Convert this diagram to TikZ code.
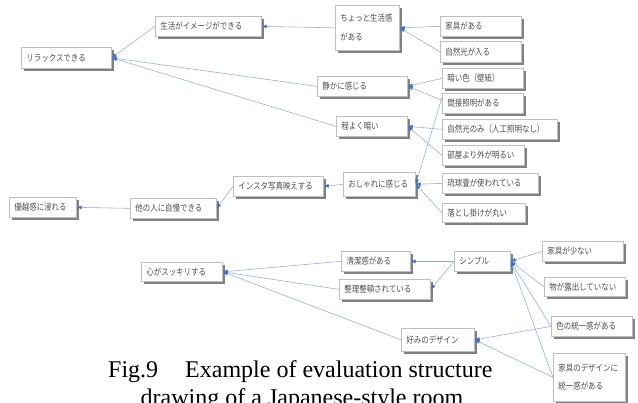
\documentclass[tikz,border=0pt]{standalone}
\usepackage{fontspec}
\setmainfont{Liberation Serif}
\newfontfamily\jp[FakeStretch=0.83]{Noto Sans CJK JP}
\usetikzlibrary{arrows.meta,shadows}
\definecolor{linkblue}{HTML}{8EAADB}
\definecolor{tipblue}{HTML}{4472C4}
\definecolor{boxedge}{HTML}{BFBFBF}
\definecolor{boxtext}{HTML}{4D4D4D}
\begin{document}
\begin{tikzpicture}[x=1pt,y=-1pt,
  box/.style={draw=boxedge, line width=0.7pt, fill=white, anchor=north west,
    inner xsep=5pt, inner ysep=0pt, align=left,
    font=\jp\fontsize{9}{19}\selectfont, text=boxtext,
    drop shadow={shadow xshift=2.5pt, shadow yshift=-2.5pt, fill=black!50, opacity=1}},
  conn/.style={draw=linkblue, line width=0.55pt, -{Latex[length=5pt,width=4pt,color=tipblue]}},
  captext/.style={font=\fontsize{24}{28}\selectfont, inner sep=0pt}]
\useasboundingbox (0,0) rectangle (638,403);
\newcommand{\bx}[6]{\node[box, minimum width=#4pt, minimum height=#5pt, text width=#4pt-10pt] (#1) at (#2,#3) {#6};}
% upper group
\bx{n1}{21}{47}{90}{21}{リラックスできる}
\bx{n2}{155}{16}{106}{20}{生活がイメージができる}
\bx{n3}{335}{5}{64}{45}{ちょっと生活感\\がある}
\bx{n4}{440}{16}{81}{20}{家具がある}
\bx{n5}{440}{41}{81}{21}{自然光が入る}
\bx{n6}{317}{76}{90}{20}{静かに感じる}
\bx{n7}{442}{68}{81}{20}{暗い色（壁紙）}
\bx{n8}{442}{93}{81}{20}{間接照明がある}
\bx{n9}{336}{116}{71}{20}{程よく暗い}
\bx{n10}{442}{119}{115}{20}{自然光のみ（人工照明なし）}
\bx{n11}{442}{145}{82}{20}{部屋より外が明るい}
\bx{n12}{343}{172}{72}{24}{おしゃれに感じる}
\bx{n13}{442}{173}{96}{20}{琉球畳が使われている}
\bx{n14}{442}{203}{83}{19}{落とし掛けが丸い}
\bx{n15}{233}{176}{90}{20}{インスタ写真映えする}
\bx{n16}{130}{198}{86}{20}{他の人に自慢できる}
\bx{n17}{9}{197}{67}{20}{優越感に浸れる}
% lower group
\bx{n18}{141}{262}{81}{19}{心がスッキリする}
\bx{n19}{341}{251}{69}{20}{清潔感がある}
\bx{n20}{339}{279}{91}{20}{整理整頓されている}
\bx{n21}{454}{251}{56}{20}{シンプル}
\bx{n22}{542}{241}{81}{20}{家具が少ない}
\bx{n23}{544}{277}{81}{19}{物が露出していない}
\bx{n24}{551}{316}{81}{20}{色の統一感がある}
\bx{n25}{401}{328}{73}{23}{好みのデザイン}
\node[box, minimum width=72pt, minimum height=48pt, text width=62pt, font=\jp\fontsize{9}{18}\selectfont] (n26) at (553,353) {家具のデザインに\\統一感がある};
% connectors upper
\draw[conn] (n2.west) -- (n1.east);
\draw[conn] (n3.west) -- (n2.east);
\draw[conn] (n4.west) -- (n3.east);
\draw[conn] (n5.west) -- (n3.east);
\draw[conn] (n6.west) -- (n1.east);
\draw[conn] (n9.west) -- (n1.east);
\draw[conn] (n7.west) -- (n6.east);
\draw[conn] ([yshift=3pt]n8.west) -- (n6.east);
\draw[conn] ([yshift=6pt]n8.west) -- (n12.east);
\draw[conn] (n10.west) -- (n9.east);
\draw[conn] (n11.west) -- (n9.east);
\draw[conn] (n13.west) -- (n12.east);
\draw[conn] (n14.west) -- (n12.east);
\draw[conn] (n12.west) -- (n15.east);
\draw[conn] (n15.west) -- (n16.east);
\draw[conn] (n16.west) -- (n17.east);
% connectors lower
\draw[conn] (n19.west) -- (n18.east);
\draw[conn] (n20.west) -- (n18.east);
\draw[conn] (n25.west) -- (n18.east);
\draw[conn] (n21.west) -- (n19.east);
\draw[conn] (n21.west) -- (n20.east);
\draw[conn] (n22.west) -- (n21.east);
\draw[conn] (n23.west) -- (n21.east);
\draw[conn] (n24.west) -- (n21.east);
\draw[conn] (n26.west) -- (n21.east);
\draw[conn] (n24.west) -- (n25.east);
\draw[conn] (n26.west) -- (n25.east);
% caption
\node[captext, anchor=base west] (cap1) at (108,378) {Fig.9\hspace{27pt}Example of evaluation structure};
\node[captext, anchor=base] (cap2) at (302,406) {drawing of a Japanese-style room};
\end{tikzpicture}
\end{document}
